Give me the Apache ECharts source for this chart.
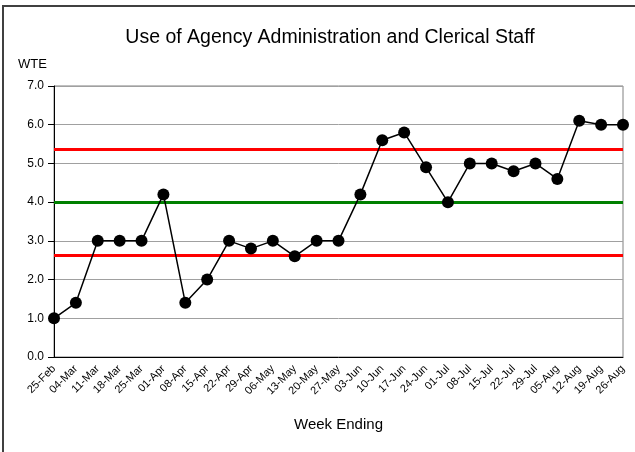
<!DOCTYPE html>
<html>
<head>
<meta charset="utf-8">
<script src="https://cdn.jsdelivr.net/npm/echarts@6/dist/echarts.min.js"></script>
<style>
  html, body { margin: 0; padding: 0; background: #fff; }
  #frame { position: absolute; left: 2px; top: 5px; width: 640px; height: 460px;
           border-left: 2px solid #404040; border-top: 2px solid #404040; }
  #chart { position: absolute; left: 0; top: 0; width: 635px; height: 452px; }
</style>
</head>
<body>
<div id="frame"></div>
<div id="chart"></div>
<script>
// week ending dates
var weeks = ['25-Feb', '04-Mar', '11-Mar', '18-Mar', '25-Mar', '01-Apr', '08-Apr', '15-Apr',
  '22-Apr', '29-Apr', '06-May', '13-May', '20-May', '27-May', '03-Jun', '10-Jun', '17-Jun',
  '24-Jun', '01-Jul', '08-Jul', '15-Jul', '22-Jul', '29-Jul', '05-Aug', '12-Aug', '19-Aug', '26-Aug'];
// WTE used each week
var wte = [1.0, 1.4, 3.0, 3.0, 3.0, 4.2, 1.4, 2.0, 3.0, 2.8, 3.0, 2.6, 3.0, 3.0, 4.2,
  5.6, 5.8, 4.9, 4.0, 5.0, 5.0, 4.8, 5.0, 4.6, 6.1, 6.0, 6.0];
// control limits
var meanLine = 4.0;
var upperLimit = 5.36;
var lowerLimit = 2.64;

var chart = echarts.init(document.getElementById('chart'));
var font = 'Liberation Sans, Arial, sans-serif';

var option = {
  animation: false,
  textStyle: { fontFamily: font },
  graphic: [
    { type: 'text', x: 330, y: 38, style: { text: 'Use of Agency Administration and Clerical Staff',
      font: '19.5px ' + font, fill: '#000', align: 'center', verticalAlign: 'middle' } },
    { type: 'text', x: 18, y: 64, style: { text: 'WTE', font: '13px ' + font, fill: '#000',
      verticalAlign: 'middle' } }
  ],
  grid: {
    left: 54, right: 12, top: 86, bottom: 95,
    show: true, borderColor: '#808080', borderWidth: 1, backgroundColor: '#fff'
  },
  xAxis: {
    type: 'category',
    data: weeks,
    boundaryGap: false,
    axisLine: { lineStyle: { color: '#000', width: 1 } },
    axisTick: { show: false },
    axisLabel: { rotate: 45, fontSize: 11, color: '#000', margin: 10, interval: 0 },
    name: 'Week Ending',
    nameLocation: 'middle',
    nameGap: 60,
    nameTextStyle: { fontSize: 15, color: '#000' }
  },
  yAxis: {
    type: 'value',
    min: 0, max: 7, interval: 1,
    axisLine: { show: true, lineStyle: { color: '#000', width: 1 } },
    axisTick: { show: true, length: 6, lineStyle: { color: '#000' } },
    axisLabel: { color: '#000', fontSize: 12, margin: 10, formatter: function (v) { return v.toFixed(1); } },
    splitLine: { lineStyle: { color: '#a0a0a0', width: 1 } }
  },
  series: [{
    type: 'line',
    data: wte,
    z: 3,
    symbol: 'circle',
    symbolSize: 12,
    itemStyle: { color: '#000' },
    lineStyle: { color: '#000', width: 1.5 },
    markLine: {
      z: 1,
      silent: true,
      symbol: 'none',
      label: { show: false },
      data: [
        { yAxis: upperLimit, lineStyle: { color: '#ff0000', width: 3, type: 'solid' } },
        { yAxis: meanLine, lineStyle: { color: '#008000', width: 3, type: 'solid' } },
        { yAxis: lowerLimit, lineStyle: { color: '#ff0000', width: 3, type: 'solid' } }
      ]
    }
  }]
};

chart.setOption(option);
</script>
</body>
</html>
